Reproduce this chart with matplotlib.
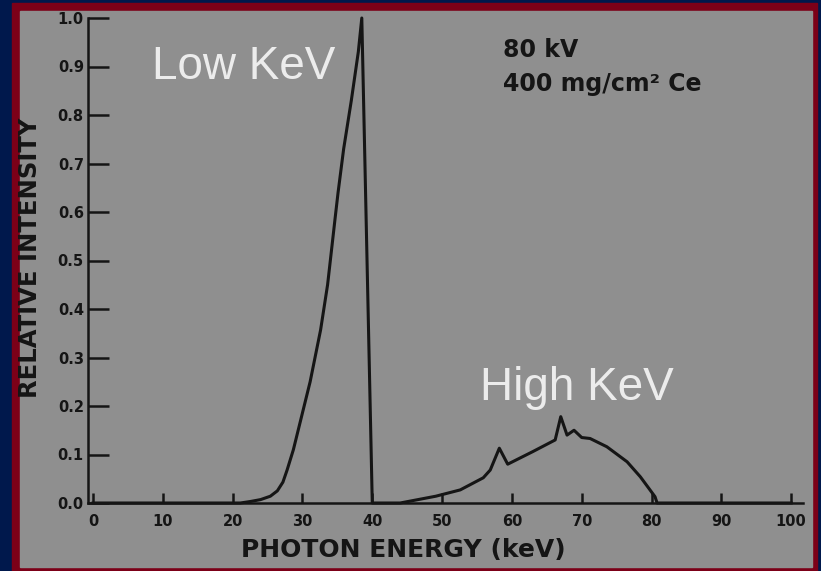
import numpy as np
import matplotlib
matplotlib.use("Agg")
import matplotlib.pyplot as plt
from matplotlib.patches import Rectangle

# spectrum (80 kV, 400 mg/cm2 Ce filter)
energy_kev = [0, 21.1, 22.5, 24.0, 25.4, 26.4, 27.2, 27.8, 28.7, 29.9, 31.1, 32.6, 33.6,
              34.7, 35.1, 35.9, 37.0, 38.0, 38.5, 40.0,
              44.0, 49.1, 52.6, 55.9, 56.9, 58.2, 59.4, 63.0, 66.2, 67.0, 67.9,
              68.9, 70.0, 71.2, 73.6, 76.5, 78.4, 80.5, 80.8, 100]
intensity = [0, 0.0, 0.003, 0.007, 0.014, 0.025, 0.043, 0.068, 0.11, 0.18, 0.25, 0.357, 0.45,
             0.59, 0.64, 0.73, 0.83, 0.93, 1.0, 0.0,
             0.0, 0.014, 0.027, 0.052, 0.068, 0.113, 0.080, 0.106, 0.13, 0.178, 0.14,
             0.15, 0.135, 0.133, 0.116, 0.085, 0.054, 0.013, 0.0, 0.0]

x_ticks = [0, 10, 20, 30, 40, 50, 60, 70, 80, 90, 100]
y_ticks = [0.0, 0.1, 0.2, 0.3, 0.4, 0.5, 0.6, 0.7, 0.8, 0.9, 1.0]

navy = '#00184c'
red = '#7c0018'
grey = '#8f8f8f'
ink = '#151515'

W, H = 821, 571
fig = plt.figure(figsize=(W / 100, H / 100), dpi=100, facecolor=navy)

# slide frame: red border with grey scanned page inside
fig.patches.append(Rectangle((12 / W, 0), (817 - 12) / W, (571 - 3) / H,
                             transform=fig.transFigure, color=red, zorder=-2))
fig.patches.append(Rectangle((20 / W, 4 / H), (812 - 20) / W, (567 - 11) / H,
                             transform=fig.transFigure, color=grey, zorder=-1))

ax = fig.add_axes([88 / W, (H - 503) / H, (803 - 88) / W, (503 - 18) / H])
ax.set_zorder(2)
ax.set_facecolor('none')

ax.plot(energy_kev, intensity, color=ink, lw=2.2, clip_on=False,
        solid_joinstyle='round')

ax.set_xlim(-0.72, 101.7)
ax.set_ylim(0, 1.0)
for s in ['top', 'right']:
    ax.spines[s].set_visible(False)
for s in ['left', 'bottom']:
    ax.spines[s].set_linewidth(1.8)
    ax.spines[s].set_color(ink)

ax.set_xticks(x_ticks)
ax.set_yticks(y_ticks)
ax.set_yticklabels(['%.1f' % v for v in y_ticks])
ax.tick_params(axis='x', direction='in', length=7.5, width=1.8, pad=8, color=ink)
ax.tick_params(axis='y', direction='in', length=15, width=1.8, pad=3, color=ink)
for lab in ax.get_xticklabels() + ax.get_yticklabels():
    lab.set_fontfamily('DejaVu Sans')
    lab.set_fontweight('bold')
    lab.set_fontsize(10.5)
    lab.set_color(ink)

ax.set_xlabel('PHOTON ENERGY (keV)', fontsize=18, fontweight='bold',
              family='DejaVu Sans', color=ink)
ax.set_ylabel('RELATIVE INTENSITY', fontsize=17.5, fontweight='bold',
              family='DejaVu Sans', color=ink)
ax.xaxis.set_label_coords(0.4406, -0.073)
ax.yaxis.set_label_coords(-0.064, 0.505)

ax.text(58.7, 0.92, '80 kV', fontsize=17, fontweight='bold',
        family='DejaVu Sans', color=ink, va='baseline')
ax.text(58.7, 0.85, '400 mg/cm\u00b2 Ce', fontsize=17, fontweight='bold',
        family='DejaVu Sans', color=ink, va='baseline')

ax.text(8.4, 0.874, 'Low KeV', fontsize=33, family='Liberation Sans',
        color='#ececec', va='baseline')
ax.text(55.5, 0.212, 'High KeV', fontsize=33, family='Liberation Sans',
        color='#ececec', va='baseline')

fig.savefig('out.png', dpi=100, facecolor=navy)
